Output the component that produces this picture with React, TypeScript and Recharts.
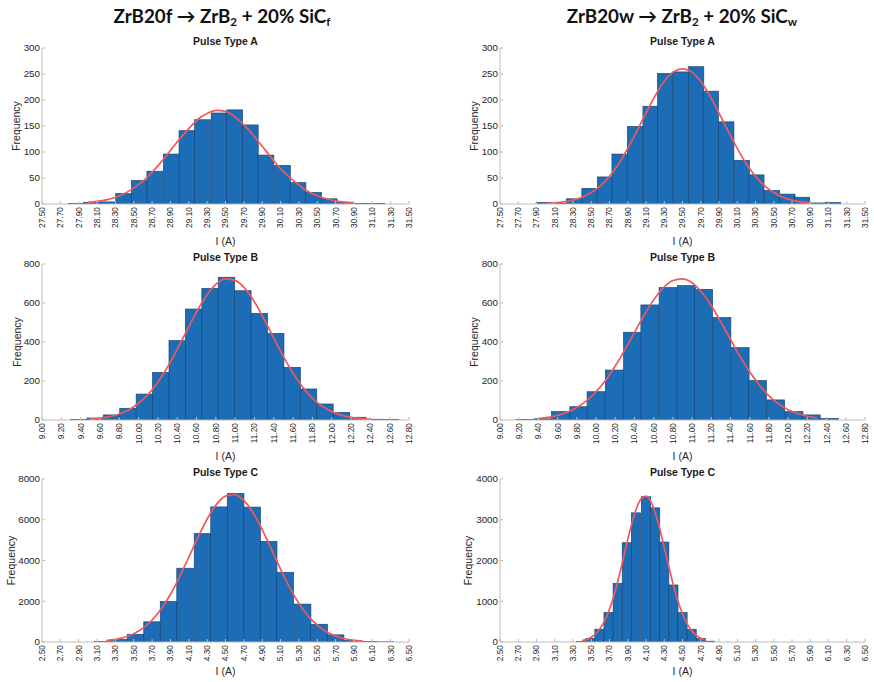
import { ComposedChart, Bar, Line, XAxis, YAxis, Label } from 'recharts';

const FONT = "'Liberation Sans', Arial, Helvetica, sans-serif";
const TEXT = '#262626';
const BOX = '#bdbdbd';
const BAR_FILL = '#1c6db5';
const BAR_EDGE = '#17477c';
const FIT = '#f0585a';

// tick labels
const ticksA = [27.5, 27.7, 27.9, 28.1, 28.3, 28.5, 28.7, 28.9, 29.1, 29.3, 29.5, 29.7, 29.9, 30.1, 30.3, 30.5, 30.7, 30.9, 31.1, 31.3, 31.5];
const ticksB = [9.0, 9.2, 9.4, 9.6, 9.8, 10.0, 10.2, 10.4, 10.6, 10.8, 11.0, 11.2, 11.4, 11.6, 11.8, 12.0, 12.2, 12.4, 12.6, 12.8];
const ticksC = [2.5, 2.7, 2.9, 3.1, 3.3, 3.5, 3.7, 3.9, 4.1, 4.3, 4.5, 4.7, 4.9, 5.1, 5.3, 5.5, 5.7, 5.9, 6.1, 6.3, 6.5];
const yTicksA = [0, 50, 100, 150, 200, 250, 300];
const yTicksB = [0, 200, 400, 600, 800];
const yTicksFC = [0, 2000, 4000, 6000, 8000];
const yTicksWC = [0, 1000, 2000, 3000, 4000];

// ZrB20f - pulse A
const binsFA = [27.87, 28.04, 28.22, 28.39, 28.56, 28.73, 28.91, 29.08, 29.25, 29.43, 29.6, 29.77, 29.94, 30.12, 30.29, 30.46, 30.63, 30.81, 30.98, 31.15];
const countsFA = [1, 3, 4, 20, 45, 63, 96, 141, 162, 175, 181, 152, 94, 74, 41, 22, 10, 3, 1, 1];
const fitXFA = [28.0, 28.1, 28.2, 28.3, 28.4, 28.5, 28.6, 28.7, 28.8, 28.9, 29.0, 29.1, 29.2, 29.3, 29.4, 29.5, 29.6, 29.7, 29.8, 29.9, 30.0, 30.1, 30.2, 30.3, 30.4, 30.5, 30.6, 30.7, 30.8, 30.9];
const fitYFA = [3, 5, 8, 13, 20, 31, 44, 61, 81, 103, 125, 145, 163, 174, 180, 178, 168, 152, 133, 111, 89, 68, 51, 36, 24, 16, 10, 6, 3.5, 2];

// ZrB20f - pulse B
const binsFB = [9.38, 9.55, 9.72, 9.89, 10.06, 10.23, 10.4, 10.57, 10.74, 10.91, 11.08, 11.25, 11.42, 11.59, 11.76, 11.93, 12.1, 12.27, 12.44, 12.61];
const countsFB = [3, 10, 26, 60, 133, 244, 407, 569, 675, 732, 663, 547, 444, 270, 159, 82, 39, 14, 4, 2];
const fitXFB = [9.5, 9.6, 9.7, 9.8, 9.9, 10.0, 10.1, 10.2, 10.3, 10.4, 10.5, 10.6, 10.7, 10.8, 10.9, 11.0, 11.1, 11.2, 11.3, 11.4, 11.5, 11.6, 11.7, 11.8, 11.9, 12.0, 12.1, 12.2, 12.3, 12.4];
const fitYFB = [4.6, 9.2, 17, 31, 53, 86, 132, 194, 272, 362, 459, 554, 636, 695, 724, 716, 675, 606, 517, 420, 325, 239, 168, 112, 71, 43, 25, 13.5, 7, 3.5];

// ZrB20f - pulse C
const binsFC = [3.16, 3.34, 3.52, 3.7, 3.88, 4.06, 4.25, 4.43, 4.61, 4.79, 4.97, 5.15, 5.34, 5.52, 5.7, 5.88, 6.06, 6.24];
const countsFC = [30, 130, 379, 990, 1990, 3620, 5320, 6630, 7290, 6620, 4940, 3420, 1860, 870, 350, 85, 25, 10];
const fitXFC = [3.2, 3.3, 3.4, 3.5, 3.6, 3.7, 3.8, 3.9, 4.0, 4.1, 4.2, 4.3, 4.4, 4.5, 4.6, 4.7, 4.8, 4.9, 5.0, 5.1, 5.2, 5.3, 5.4, 5.5, 5.6, 5.7, 5.8, 5.9, 6.0];
const fitYFC = [64, 125, 232, 407, 680, 1080, 1630, 2345, 3202, 4159, 5138, 6035, 6742, 7161, 7233, 6948, 6346, 5512, 4553, 3577, 2670, 1896, 1281, 823, 503, 292, 161, 85, 42];

// ZrB20w - pulse A
const binsWA = [27.98, 28.15, 28.31, 28.48, 28.65, 28.81, 28.98, 29.15, 29.31, 29.48, 29.65, 29.81, 29.98, 30.15, 30.31, 30.48, 30.65, 30.81, 30.98, 31.15];
const countsWA = [3, 1, 10, 30, 52, 96, 149, 188, 251, 254, 264, 217, 158, 84, 56, 26, 19, 13, 2, 3];
const fitXWA = [28.0, 28.1, 28.2, 28.3, 28.4, 28.5, 28.6, 28.7, 28.8, 28.9, 29.0, 29.1, 29.2, 29.3, 29.4, 29.5, 29.6, 29.7, 29.8, 29.9, 30.0, 30.1, 30.2, 30.3, 30.4, 30.5, 30.6, 30.7, 30.8, 30.9];
const fitYWA = [1, 2, 4, 7.4, 13, 22, 35, 53.5, 77, 107, 140, 175, 208, 236, 254, 260, 254, 236, 208, 175, 140, 107, 77, 53.5, 35, 22, 13, 7.4, 4, 2];

// ZrB20w - pulse B
const binsWB = [9.26, 9.45, 9.63, 9.82, 10.0, 10.19, 10.38, 10.56, 10.75, 10.94, 11.12, 11.31, 11.5, 11.68, 11.87, 12.06, 12.24, 12.43];
const countsWB = [2, 6, 43, 68, 145, 256, 450, 590, 679, 689, 670, 525, 371, 202, 103, 43, 26, 8];
const fitXWB = [9.4, 9.5, 9.6, 9.7, 9.8, 9.9, 10.0, 10.1, 10.2, 10.3, 10.4, 10.5, 10.6, 10.7, 10.8, 10.9, 11.0, 11.1, 11.2, 11.3, 11.4, 11.5, 11.6, 11.7, 11.8, 11.9, 12.0, 12.1, 12.2, 12.3];
const fitYWB = [7.6, 13.7, 24, 40, 64, 98, 145, 204, 277, 360, 449, 537, 616, 678, 715, 724, 704, 655, 586, 502, 413, 325, 246, 179, 124, 83, 53, 33, 19, 11];

// ZrB20w - pulse C
const binsWC = [3.39, 3.49, 3.59, 3.69, 3.79, 3.89, 3.99, 4.1, 4.2, 4.3, 4.4, 4.5, 4.6, 4.7, 4.8];
const countsWC = [15, 90, 313, 724, 1440, 2436, 3169, 3564, 3292, 2453, 1399, 724, 313, 90, 20];
const fitXWC = [3.4, 3.45, 3.5, 3.55, 3.6, 3.65, 3.7, 3.75, 3.8, 3.85, 3.9, 3.95, 4.0, 4.05, 4.1, 4.15, 4.2, 4.25, 4.3, 4.35, 4.4, 4.45, 4.5, 4.55, 4.6, 4.65, 4.7, 4.75];
const fitYWC = [34, 64, 118, 205, 340, 537, 806, 1153, 1570, 2036, 2513, 2954, 3307, 3524, 3580, 3456, 3180, 2786, 2324, 1845, 1396, 1005, 689, 450, 279, 165, 93, 50];

const TOP_PAD = 8;
const RIGHT_PAD = 6;
const BOTTOM_PAD = 5;

type PanelProps = {
  title: string;
  left: number;
  top: number;
  yAxisW: number;
  plotW: number;
  plotH: number;
  xAxisH: number;
  yLabelX: number;
  bins: number[];
  counts: number[];
  binWidth: number;
  fitX: number[];
  fitY: number[];
  xTicks: number[];
  yTicks: number[];
};

function renderXTick(props: any) {
  const { x, y, payload } = props;
  return (
    <text
      x={x}
      y={y}
      transform={`rotate(-90 ${x} ${y})`}
      textAnchor="end"
      dy="0.35em"
      fontSize={8.4}
      fontFamily={FONT}
      fill={TEXT}
    >
      {Number(payload.value).toFixed(2)}
    </text>
  );
}

// recharts squeezes the band on a numeric axis, so keep its centre and draw the bin width
const histBar = (barSize: number) => (props: any) => {
  const { x, y, width, height } = props;
  if (!height || height <= 0) return <g />;
  const cx = x + width / 2;
  return (
    <rect
      x={cx - barSize / 2}
      y={y}
      width={barSize}
      height={height}
      fill={BAR_FILL}
      stroke={BAR_EDGE}
      strokeWidth={0.7}
    />
  );
};

function Panel(p: PanelProps) {
  const xDomain = [p.xTicks[0], p.xTicks[p.xTicks.length - 1]];
  const yDomain = [0, p.yTicks[p.yTicks.length - 1]];
  const bars = p.bins.map((x, i) => ({ x, count: p.counts[i] }));
  const fit = p.fitX.map((x, i) => ({ x, fit: p.fitY[i] }));
  const barSize = (p.binWidth / (xDomain[1] - xDomain[0])) * p.plotW;
  const width = p.yAxisW + p.plotW + RIGHT_PAD;
  const height = TOP_PAD + p.plotH + p.xAxisH + BOTTOM_PAD;
  const tickStyle = { fontSize: 9.8, fontFamily: FONT, fill: TEXT };

  return (
    <div style={{ position: 'absolute', left: p.left, top: p.top, width, height }}>
      <div
        style={{
          position: 'absolute',
          left: p.yAxisW + p.plotW / 2,
          top: TOP_PAD - 7,
          transform: 'translate(-50%, -50%)',
          whiteSpace: 'nowrap',
          font: `bold 10.5px ${FONT}`,
          color: '#1a1a1a',
          lineHeight: 1,
        }}
      >
        {p.title}
      </div>
      <ComposedChart
        width={width}
        height={height}
        data={bars}
        margin={{ top: TOP_PAD, right: RIGHT_PAD, bottom: BOTTOM_PAD, left: 0 }}
      >
        <XAxis
          xAxisId="b"
          dataKey="x"
          type="number"
          domain={xDomain}
          ticks={p.xTicks}
          interval={0}
          allowDataOverflow
          height={p.xAxisH}
          tickSize={-3}
          tickMargin={6}
          stroke={BOX}
          tick={renderXTick}
        >
          <Label value="I (A)" position="insideBottom" offset={0} fontSize={10.5} fontFamily={FONT} fill={TEXT} />
        </XAxis>
        <XAxis
          xAxisId="t"
          orientation="top"
          dataKey="x"
          type="number"
          domain={xDomain}
          ticks={p.xTicks}
          interval={0}
          allowDataOverflow
          height={0}
          mirror
          tickSize={3}
          tick={false}
          stroke={BOX}
        />
        <YAxis
          yAxisId="l"
          type="number"
          domain={yDomain}
          ticks={p.yTicks}
          interval={0}
          allowDataOverflow
          width={p.yAxisW}
          tickSize={-3}
          tickMargin={5}
          stroke={BOX}
          tick={tickStyle}
        >
          <Label
            value="Frequency"
            angle={-90}
            position="insideLeft"
            offset={p.yLabelX}
            fontSize={10.5}
            fontFamily={FONT}
            fill={TEXT}
            style={{ textAnchor: 'middle' }}
          />
        </YAxis>
        <YAxis
          yAxisId="r"
          orientation="right"
          type="number"
          domain={yDomain}
          ticks={p.yTicks}
          interval={0}
          allowDataOverflow
          width={0}
          mirror
          tickSize={3}
          tick={false}
          stroke={BOX}
        />
        <Bar
          xAxisId="b"
          yAxisId="l"
          dataKey="count"
          shape={histBar(barSize)}
          fill={BAR_FILL}
          isAnimationActive={false}
        />
        <Line
          xAxisId="b"
          yAxisId="l"
          data={fit}
          dataKey="fit"
          type="monotone"
          stroke={FIT}
          strokeWidth={1.7}
          dot={false}
          activeDot={false}
          isAnimationActive={false}
        />
      </ComposedChart>
    </div>
  );
}

function Heading({ x, y, base, sub }: { x: number; y: number; base: string; sub: string }) {
  const subStyle = { fontSize: '0.62em', verticalAlign: '-0.3em', lineHeight: 0 };
  return (
    <div
      style={{
        position: 'absolute',
        left: x,
        top: y,
        transform: 'translate(-50%, -50%)',
        whiteSpace: 'nowrap',
        font: "bold 18.8px Lato, 'Open Sans', sans-serif",
        color: '#111',
        lineHeight: 1,
      }}
    >
      {base} → ZrB<span style={subStyle}>2</span> + 20% SiC<span style={subStyle}>{sub}</span>
    </div>
  );
}

const LEFT_COL = { left: 0, yAxisW: 42, plotW: 367 };
const RIGHT_COL = { left: 456, yAxisW: 44, plotW: 365 };
const ROW1 = { top: 40, plotH: 156, xAxisH: 41 };
const ROW2 = { top: 256, plotH: 156, xAxisH: 40 };
const ROW3 = { top: 471, plotH: 163, xAxisH: 33 };

export default function App() {
  return (
    <div
      style={{
        position: 'absolute',
        left: 0,
        top: 0,
        width: 874,
        height: 682,
        background: '#fff',
        overflow: 'hidden',
      }}
    >
      <Heading x={222} y={16} base="ZrB20f" sub="f" />
      <Heading x={682} y={16} base="ZrB20w" sub="w" />

      <Panel title="Pulse Type A" {...LEFT_COL} {...ROW1} yLabelX={16} bins={binsFA} counts={countsFA} binWidth={0.1727}
        fitX={fitXFA} fitY={fitYFA} xTicks={ticksA} yTicks={yTicksA} />
      <Panel title="Pulse Type A" {...RIGHT_COL} {...ROW1} yLabelX={18} bins={binsWA} counts={countsWA} binWidth={0.1667}
        fitX={fitXWA} fitY={fitYWA} xTicks={ticksA} yTicks={yTicksA} />

      <Panel title="Pulse Type B" {...LEFT_COL} {...ROW2} yLabelX={17} bins={binsFB} counts={countsFB} binWidth={0.17}
        fitX={fitXFB} fitY={fitYFB} xTicks={ticksB} yTicks={yTicksB} />
      <Panel title="Pulse Type B" {...RIGHT_COL} {...ROW2} yLabelX={18} bins={binsWB} counts={countsWB} binWidth={0.1865}
        fitX={fitXWB} fitY={fitYWB} xTicks={ticksB} yTicks={yTicksB} />

      <Panel title="Pulse Type C" {...LEFT_COL} {...ROW3} yLabelX={11} bins={binsFC} counts={countsFC} binWidth={0.1818}
        fitX={fitXFC} fitY={fitYFC} xTicks={ticksC} yTicks={yTicksFC} />
      <Panel title="Pulse Type C" {...RIGHT_COL} {...ROW3} yLabelX={12} bins={binsWC} counts={countsWC} binWidth={0.1011}
        fitX={fitXWC} fitY={fitYWC} xTicks={ticksC} yTicks={yTicksWC} />
    </div>
  );
}
